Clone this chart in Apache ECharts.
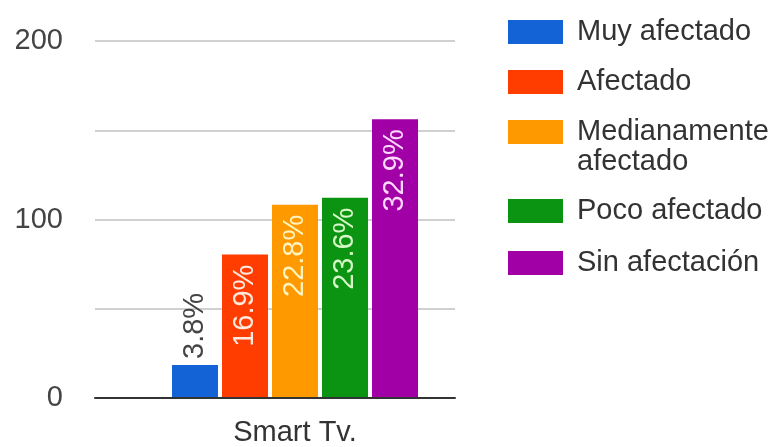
<!DOCTYPE html>
<html>
<head>
<meta charset="utf-8">
<script src="https://cdn.jsdelivr.net/npm/echarts@6/dist/echarts.min.js"></script>
<style>
  html, body { margin: 0; padding: 0; background: #ffffff; }
  #chart { width: 783px; height: 447px; }
</style>
</head>
<body>
<div id="chart"></div>
<script>
// Survey: how much Smart TV use was affected (counts per answer)
const categories = ['Smart Tv.'];
const seriesNames = ['Muy afectado', 'Afectado', 'Medianamente afectado', 'Poco afectado', 'Sin afectación'];
const seriesValues = [18, 80, 108, 112, 156];
const yTickLabels = [0, 100, 200];

const seriesColors = ['#1463d6', '#ff3d00', '#ff9900', '#0a9412', '#a000a6'];
const labelColors = ['#444444', '#ffeae0', '#fff4c0', '#d8f7c8', '#ffd8ff'];
const legendTops = [12, 62, 82, 191, 243];

const FONT = "'Liberation Sans', Arial, sans-serif";
const total = seriesValues.reduce((a, b) => a + b, 0);
const pct = v => (v / total * 100).toFixed(1) + '%';

const chart = echarts.init(document.getElementById('chart'), null, { renderer: 'canvas' });

const series = seriesNames.map((name, i) => {
  const v = seriesValues[i];
  const outside = v < 40;
  return {
    name,
    type: 'bar',
    xAxisIndex: 1,
    yAxisIndex: 1,
    data: [v],
    barWidth: 46,
    barGap: '8.7%',
    itemStyle: { color: seriesColors[i] },
    label: {
      show: true,
      formatter: () => pct(v),
      position: outside ? 'top' : 'insideTop',
      distance: outside ? 6 : 10,
      rotate: 90,
      align: outside ? 'left' : 'right',
      verticalAlign: 'middle',
      color: labelColors[i],
      fontFamily: FONT,
      fontSize: 29
    }
  };
});

// One legend per entry; long names wrap onto a second line that hangs below the swatch
const legends = seriesNames.map((name, i) => {
  const twoLine = name.length > 16;
  return {
    data: [name],
    left: 503,
    top: legendTops[i],
    icon: 'rect',
    itemWidth: 55,
    itemHeight: 24,
    selectedMode: false,
    formatter: n => twoLine ? ' \n' + n.replace(' ', '\n') : n,
    textStyle: {
      fontFamily: FONT,
      fontSize: 29,
      lineHeight: 30,
      color: '#333333',
      padding: [0, 0, 0, 9]
    }
  };
});

chart.setOption({
  animation: false,
  backgroundColor: '#ffffff',
  legend: legends,
  grid: [
    { left: 95, right: 328, top: 41, bottom: 49 },
    { left: 135, right: 328, top: 41, bottom: 49 }
  ],
  xAxis: [
    {
      gridIndex: 0,
      type: 'category',
      data: [''],
      axisLine: { show: true, lineStyle: { color: '#333333', width: 2 } },
      axisTick: { show: false },
      axisLabel: { show: false }
    },
    {
      gridIndex: 1,
      type: 'category',
      data: categories,
      axisLine: { show: false },
      axisTick: { show: false },
      axisLabel: { color: '#333333', fontFamily: FONT, fontSize: 29, margin: 21 }
    }
  ],
  yAxis: [
    {
      gridIndex: 0,
      type: 'value',
      min: 0,
      max: 200,
      interval: 50,
      axisLine: { show: false },
      axisTick: { show: false },
      axisLabel: {
        color: '#444444',
        fontFamily: FONT,
        fontSize: 29,
        margin: 32,
        formatter: v => (yTickLabels.indexOf(v) >= 0 ? String(v) : '')
      },
      splitLine: { lineStyle: { color: '#d0d0d0', width: 2 } }
    },
    {
      gridIndex: 1,
      type: 'value',
      min: 0,
      max: 200,
      interval: 50,
      show: false,
      splitLine: { show: false }
    }
  ],
  series
});
</script>
</body>
</html>
